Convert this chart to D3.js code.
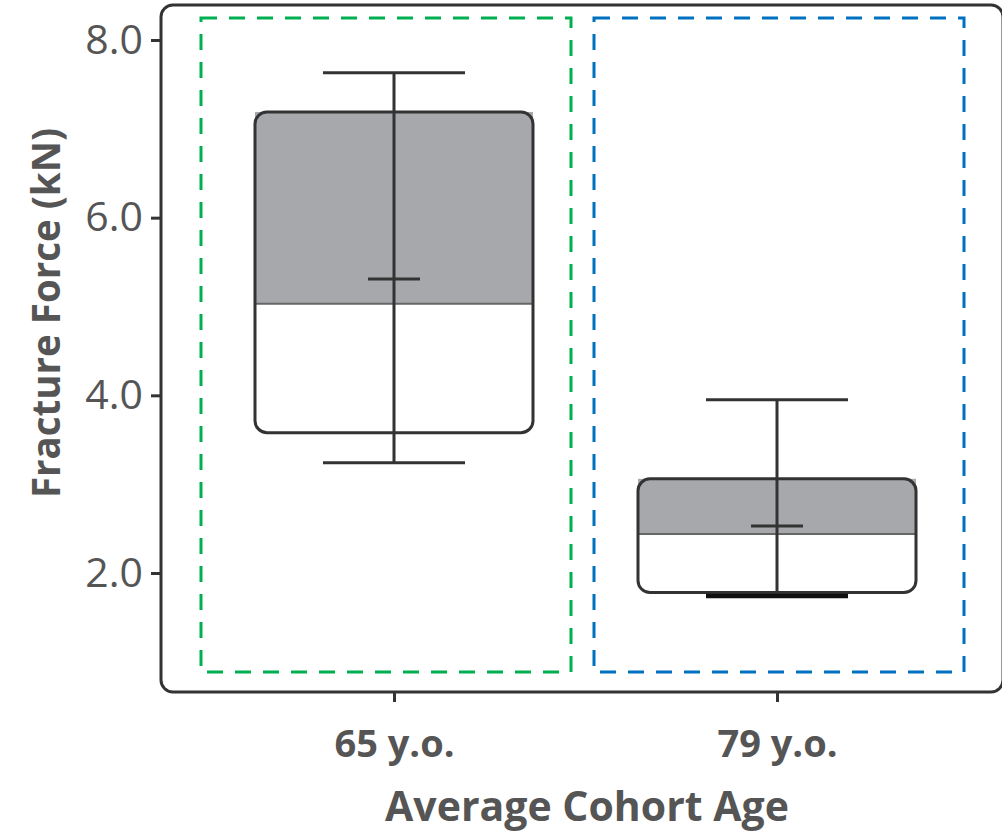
<!DOCTYPE html>
<html>
<head>
<meta charset="utf-8">
<script src="https://cdn.jsdelivr.net/npm/d3@7"></script>
<style>
  body { margin: 0; background: #fff; }
  svg { display: block; font-family: "Open Sans", sans-serif; }
</style>
</head>
<body>
<svg id="chart" width="1002" height="832"></svg>
<script>
// cohort groups and box statistics (kN)
const groups = ["65 y.o.", "79 y.o."];
const q1 = [3.58, 1.78];
const q3 = [7.19, 3.06];
const median = [5.03, 2.44];
const mean = [5.31, 2.53];
const whiskerLow = [3.24, 1.74];
const whiskerHigh = [7.63, 3.95];
const frameColors = ["#00b050", "#0070c0"];
const yTicks = [2, 4, 6, 8];

const svg = d3.select("#chart");
const panel = { left: 161, top: 5, right: 1003, bottom: 692 };
const textColor = "#555";

const y = d3.scaleLinear().domain([2, 8]).range([573, 40]);
const x = d3.scalePoint().domain(groups).range([394, 777]);
const xFrame = d3.scaleBand().domain(groups).range([201, 964]).paddingInner(0.0585);
const boxW = 278;
const capW = 142;
const meanW = 52;

const data = groups.map((g, i) => ({
  g, q1: q1[i], q3: q3[i], median: median[i], mean: mean[i],
  lo: whiskerLow[i], hi: whiskerHigh[i], color: frameColors[i]
}));

// dashed group frames
svg.append("g")
  .selectAll("rect")
  .data(data)
  .enter()
  .append("rect")
  .attr("x", (d) => xFrame(d.g))
  .attr("y", 18)
  .attr("width", xFrame.bandwidth())
  .attr("height", 672 - 18)
  .attr("fill", "none")
  .attr("stroke", (d) => d.color)
  .attr("stroke-width", 3)
  .attr("stroke-dasharray", "16 12");

// boxes
const box = svg.append("g").selectAll("g").data(data).enter().append("g");

box.append("rect")
  .attr("x", (d) => x(d.g) - boxW / 2)
  .attr("y", (d) => y(d.median))
  .attr("width", boxW)
  .attr("height", (d) => y(d.q1) - y(d.median))
  .attr("fill", "#fff");

box.append("rect")
  .attr("x", (d) => x(d.g) - boxW / 2)
  .attr("y", (d) => y(d.q3))
  .attr("width", boxW)
  .attr("height", (d) => y(d.median) - y(d.q3))
  .attr("fill", "#a7a8ab");

box.append("line")
  .attr("x1", (d) => x(d.g) - boxW / 2)
  .attr("x2", (d) => x(d.g) + boxW / 2)
  .attr("y1", (d) => y(d.median))
  .attr("y2", (d) => y(d.median))
  .attr("stroke", "#666")
  .attr("stroke-width", 2);

box.append("rect")
  .attr("x", (d) => x(d.g) - boxW / 2)
  .attr("y", (d) => y(d.q3))
  .attr("width", boxW)
  .attr("height", (d) => y(d.q1) - y(d.q3))
  .attr("rx", 12)
  .attr("fill", "none")
  .attr("stroke", "#333")
  .attr("stroke-width", 3);

// whiskers
box.append("line")
  .attr("x1", (d) => x(d.g))
  .attr("x2", (d) => x(d.g))
  .attr("y1", (d) => y(d.hi))
  .attr("y2", (d) => y(d.lo))
  .attr("stroke", "#333")
  .attr("stroke-width", 3);

box.selectAll(".cap")
  .data((d) => [{ g: d.g, v: d.hi, w: 3 }, { g: d.g, v: d.lo, w: d.lo < 2 ? 4.5 : 3 }])
  .enter()
  .append("line")
  .attr("class", "cap")
  .attr("x1", (d) => x(d.g) - capW / 2)
  .attr("x2", (d) => x(d.g) + capW / 2)
  .attr("y1", (d) => y(d.v))
  .attr("y2", (d) => y(d.v))
  .attr("stroke", (d) => (d.w > 3 ? "#111" : "#333"))
  .attr("stroke-width", (d) => d.w);

// mean marker
box.append("line")
  .attr("x1", (d) => x(d.g) - meanW / 2)
  .attr("x2", (d) => x(d.g) + meanW / 2)
  .attr("y1", (d) => y(d.mean))
  .attr("y2", (d) => y(d.mean))
  .attr("stroke", "#333")
  .attr("stroke-width", 3);

// panel border
svg.append("rect")
  .attr("x", panel.left)
  .attr("y", panel.top)
  .attr("width", panel.right - panel.left)
  .attr("height", panel.bottom - panel.top)
  .attr("rx", 12)
  .attr("fill", "none")
  .attr("stroke", "#333")
  .attr("stroke-width", 3);

// y axis
const yAxis = svg.append("g")
  .attr("transform", `translate(${panel.left},0)`)
  .call(d3.axisLeft(y).tickValues(yTicks).tickFormat(d3.format(".1f")).tickSize(10).tickPadding(8));
yAxis.select(".domain").remove();
yAxis.selectAll(".tick line").attr("stroke", "#333").attr("stroke-width", 3);
yAxis.selectAll(".tick text")
  .attr("fill", textColor)
  .style("font-size", "41px")
  .style("font-family", "Open Sans");

// x axis
const xAxis = svg.append("g")
  .attr("transform", `translate(0,${panel.bottom})`)
  .call(d3.axisBottom(x).tickSize(10).tickPadding(28));
xAxis.select(".domain").remove();
xAxis.selectAll(".tick line").attr("stroke", "#333").attr("stroke-width", 3);
xAxis.selectAll(".tick text")
  .attr("fill", textColor)
  .style("font-size", "38px")
  .style("font-weight", "bold")
  .style("font-family", "Open Sans");

// axis titles
svg.append("text")
  .attr("x", 587)
  .attr("y", 821)
  .attr("text-anchor", "middle")
  .attr("fill", textColor)
  .style("font-size", "41px")
  .style("font-weight", "bold")
  .text("Average Cohort Age");

svg.append("text")
  .attr("transform", "translate(60,313) rotate(-90)")
  .attr("text-anchor", "middle")
  .attr("fill", textColor)
  .style("font-size", "38.5px")
  .style("font-weight", "bold")
  .text("Fracture Force (kN)");
</script>
</body>
</html>
